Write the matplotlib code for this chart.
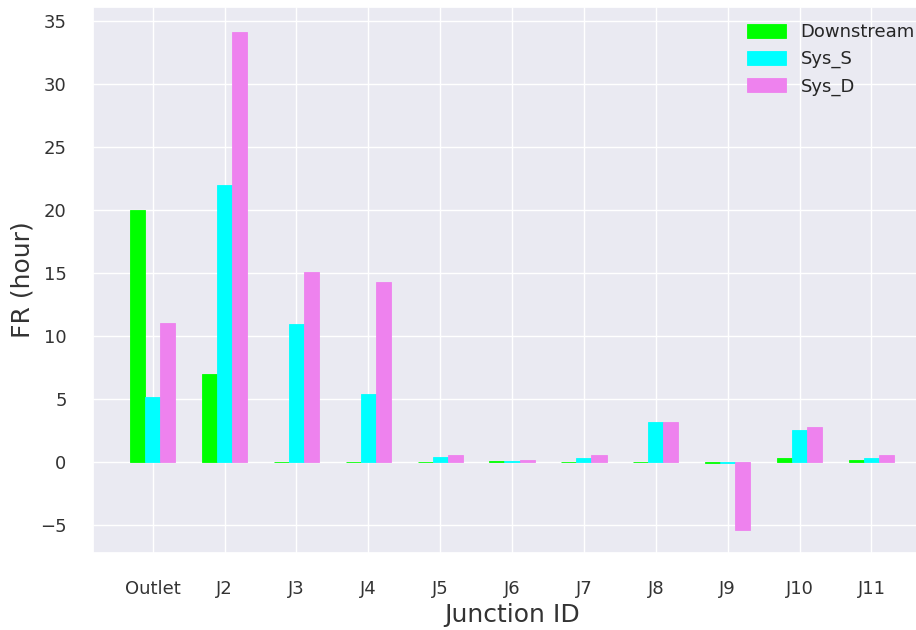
import numpy as np
import matplotlib
matplotlib.use('Agg')
import matplotlib.pyplot as plt
import seaborn as sns

# Chart data
junctions = ['Outlet', 'J2', 'J3', 'J4', 'J5', 'J6', 'J7', 'J8', 'J9', 'J10', 'J11']
downstream = [20.0, 7.0, 0.05, 0.05, 0.05, 0.08, 0.05, 0.05, -0.05, 0.37, 0.2]
sys_s = [5.2, 22.0, 11.0, 5.4, 0.45, 0.08, 0.35, 3.2, -0.08, 2.6, 0.35]
sys_d = [11.05, 34.1, 15.05, 14.3, 0.55, 0.2, 0.55, 3.2, -5.35, 2.8, 0.55]

sns.set_theme(style='darkgrid')
plt.rcParams['font.family'] = ['DejaVu Sans']

fig = plt.figure(figsize=(9.16, 6.3), dpi=100)
# the original axes runs a little past the right edge of the picture
ax = fig.add_axes([0.1015, 0.122, 0.915, 0.867])

x = np.arange(len(junctions))
width = 0.21
ax.bar(x - width, downstream, width, color='lime', edgecolor='lime', linewidth=0.6, label='Downstream')
ax.bar(x, sys_s, width, color='cyan', edgecolor='cyan', linewidth=0.6, label='Sys_S')
ax.bar(x + width, sys_d, width, color='violet', edgecolor='violet', linewidth=0.6, label='Sys_D')

ax.set_xticks(x)
ax.set_xticklabels(junctions)
ax.tick_params(axis='both', labelsize=13, pad=13, labelcolor='#333333')
ax.set_xlim(-0.83, 10.83)
ax.set_ylim(-7.2, 36.1)
ax.set_yticks(np.arange(-5, 36, 5))
ax.set_xlabel('Junction ID', fontsize=18, color='#333333')
ax.set_ylabel('FR (hour)', fontsize=18, color='#333333')

ax.legend(loc='upper right', fontsize=13, frameon=False, handlelength=2.15, handleheight=0.8)

fig.savefig('out.png', dpi=100)
